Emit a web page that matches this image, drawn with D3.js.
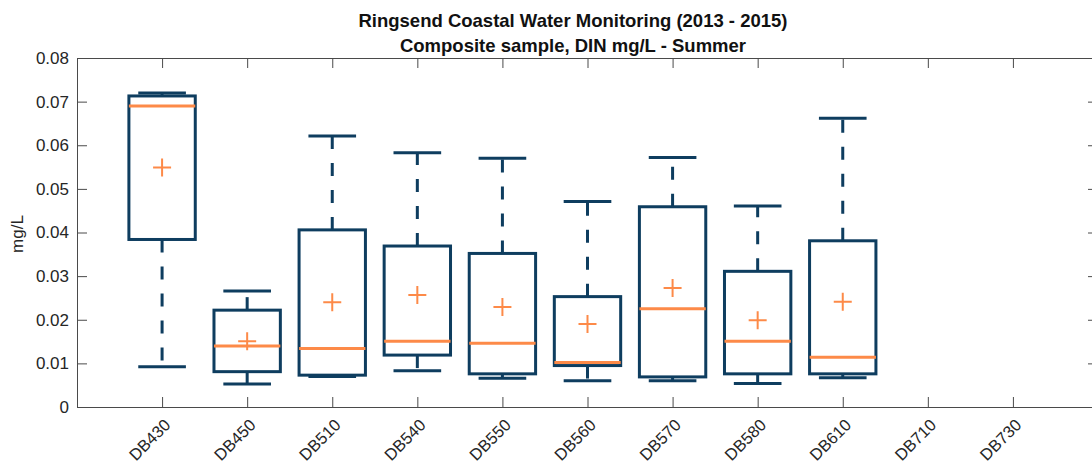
<!DOCTYPE html>
<html>
<head>
<meta charset="utf-8">
<script src="https://cdn.jsdelivr.net/npm/d3@7"></script>
<style>
    body { margin: 0; background: #fff; }
    text { font-family: "Liberation Sans", Arial, sans-serif; }
</style>
</head>
<body>
<div id="chart"></div>
<script>
// Ringsend coastal water - DIN summer boxplots
const stations = ["DB430", "DB450", "DB510", "DB540", "DB550", "DB560", "DB570", "DB580", "DB610", "DB710", "DB730"];
const whiskerLow  = [0.0092, 0.0053, 0.0070, 0.0083, 0.0066, 0.0060, 0.0060, 0.0054, 0.0067, null, null];
const q1          = [0.0384, 0.0081, 0.0073, 0.0119, 0.0076, 0.0095, 0.0069, 0.0076, 0.0076, null, null];
const medians     = [0.0690, 0.0140, 0.0134, 0.0151, 0.0146, 0.0102, 0.0225, 0.0151, 0.0114, null, null];
const q3          = [0.0713, 0.0222, 0.0406, 0.0369, 0.0352, 0.0253, 0.0459, 0.0311, 0.0381, null, null];
const whiskerHigh = [0.0720, 0.0266, 0.0621, 0.0583, 0.0570, 0.0471, 0.0572, 0.0461, 0.0662, null, null];
const means       = [0.0549, 0.0151, 0.0240, 0.0257, 0.0229, 0.0190, 0.0273, 0.0199, 0.0241, null, null];
const yTicks = [0, 0.01, 0.02, 0.03, 0.04, 0.05, 0.06, 0.07, 0.08];

const W = 1092, H = 464;
const plot = { left: 77, right: 1098, top: 58, bottom: 407 };
const boxColor = "#0e3d5f";
const medColor = "#fd8a48";
const axisColor = "#4a4a4a";

const svg = d3.select("#chart")
    .append("svg")
    .attr("width", W)
    .attr("height", H);

const x = d3.scaleLinear().domain([0, 12]).range([plot.left, plot.right]);
const y = d3.scaleLinear().domain([0, 0.08]).range([plot.bottom, plot.top]);

const data = stations.map((s, i) => ({
    name: s, pos: i + 1,
    lo: whiskerLow[i], q1: q1[i], med: medians[i], q3: q3[i], hi: whiskerHigh[i], mean: means[i]
})).filter(d => d.med !== null);

const boxW = x(0.78) - x(0);
const capW = x(0.56) - x(0);

// axes (ticks point inward)
const fmt = d => d === 0 ? "0" : d3.format(".2f")(d);
const xPos = stations.map((s, i) => i + 1);

const xAxis = svg.append("g")
    .attr("transform", `translate(0,${plot.bottom})`)
    .call(d3.axisBottom(x).tickValues(xPos)
        .tickFormat(i => stations[i - 1]).tickSizeInner(-10).tickSizeOuter(0));
xAxis.selectAll("text")
    .attr("x", 0).attr("y", 0).attr("dy", null)
    .attr("text-anchor", "end")
    .attr("transform", "translate(9,19) rotate(-45)")
    .style("font-size", "16.5px");

svg.append("g")
    .attr("transform", `translate(0,${plot.top})`)
    .call(d3.axisTop(x).tickValues(xPos)
        .tickFormat("").tickSizeInner(-10).tickSizeOuter(0));

svg.append("g")
    .attr("transform", `translate(${plot.left},0)`)
    .call(d3.axisLeft(y).tickValues(yTicks).tickFormat(fmt)
        .tickSizeInner(-10).tickSizeOuter(0).tickPadding(8))
    .selectAll("text").style("font-size", "17px");

svg.append("g")
    .attr("transform", `translate(${plot.right},0)`)
    .call(d3.axisRight(y).tickValues(yTicks).tickFormat("")
        .tickSizeInner(-10).tickSizeOuter(0));

svg.selectAll(".domain, .tick line").attr("stroke", axisColor);
svg.selectAll(".tick text").attr("fill", "#262626");

// boxes
const g = svg.selectAll(".box")
    .data(data)
    .join("g")
    .attr("class", "box");

g.append("path")
    .attr("d", d => `M${x(d.pos)},${y(d.q3)}V${y(d.hi)}`)
    .attr("stroke", boxColor).attr("stroke-width", 3)
    .attr("stroke-dasharray", "13,14");
g.append("path")
    .attr("d", d => `M${x(d.pos)},${y(d.q1)}V${y(d.lo)}`)
    .attr("stroke", boxColor).attr("stroke-width", 3)
    .attr("stroke-dasharray", "13,14");

g.selectAll(".cap")
    .data(d => [{ pos: d.pos, v: d.hi }, { pos: d.pos, v: d.lo }])
    .join("line")
    .attr("class", "cap")
    .attr("x1", d => x(d.pos) - capW / 2)
    .attr("x2", d => x(d.pos) + capW / 2)
    .attr("y1", d => y(d.v)).attr("y2", d => y(d.v))
    .attr("stroke", boxColor).attr("stroke-width", 3);

g.append("rect")
    .attr("x", d => x(d.pos) - boxW / 2)
    .attr("width", boxW)
    .attr("y", d => y(d.q3))
    .attr("height", d => y(d.q1) - y(d.q3))
    .attr("fill", "none")
    .attr("stroke", boxColor).attr("stroke-width", 3);

g.append("line")
    .attr("x1", d => x(d.pos) - boxW / 2)
    .attr("x2", d => x(d.pos) + boxW / 2)
    .attr("y1", d => y(d.med)).attr("y2", d => y(d.med))
    .attr("stroke", medColor).attr("stroke-width", 3);

// mean markers
g.append("path")
    .attr("d", d => `M${x(d.pos) - 9},${y(d.mean)}h18M${x(d.pos)},${y(d.mean) - 9}v18`)
    .attr("stroke", medColor).attr("stroke-width", 2);

// labels
svg.append("text")
    .attr("transform", `translate(23,234) rotate(-90)`)
    .attr("text-anchor", "middle")
    .style("font-size", "17px")
    .attr("fill", "#262626")
    .text("mg/L");

svg.append("text")
    .attr("x", 573).attr("y", 27)
    .attr("text-anchor", "middle")
    .style("font-size", "18.5px").style("font-weight", "bold")
    .attr("fill", "#111")
    .text("Ringsend Coastal Water Monitoring (2013 - 2015)");
svg.append("text")
    .attr("x", 573).attr("y", 52)
    .attr("text-anchor", "middle")
    .style("font-size", "18.5px").style("font-weight", "bold")
    .attr("fill", "#111")
    .text("Composite sample, DIN mg/L - Summer");
</script>
</body>
</html>
